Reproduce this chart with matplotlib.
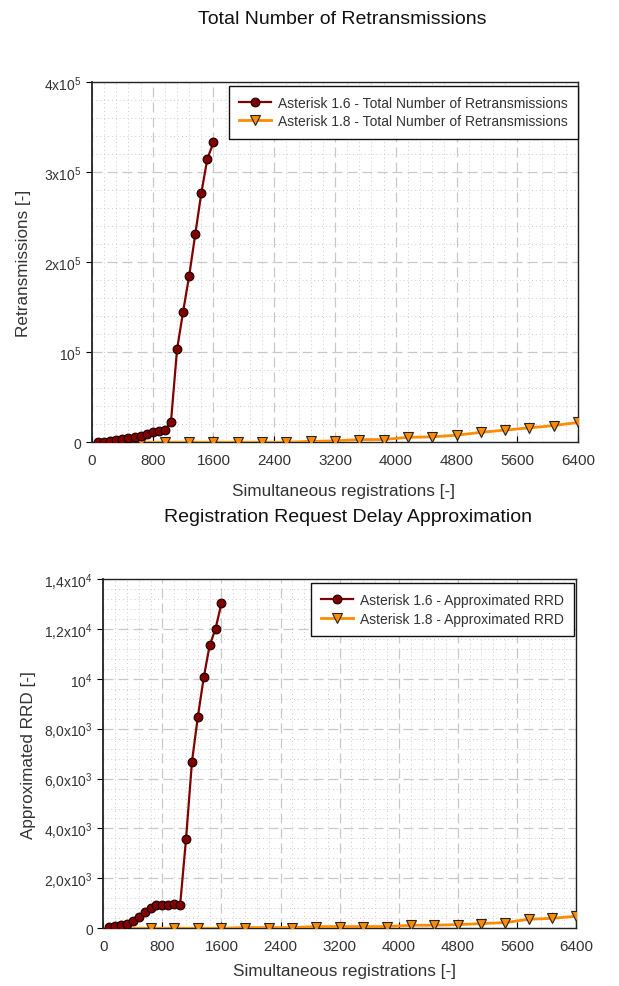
import matplotlib
matplotlib.use("Agg")
import matplotlib.pyplot as plt
from matplotlib.ticker import MultipleLocator, FixedLocator, FixedFormatter

plt.rcParams['font.family'] = ['Liberation Sans', 'DejaVu Sans']
plt.rcParams['mathtext.fontset'] = 'custom'
plt.rcParams['mathtext.rm'] = 'Liberation Sans'
plt.rcParams['mathtext.it'] = 'Liberation Sans:italic'
plt.rcParams['mathtext.bf'] = 'Liberation Sans:bold'

# --- dane ---
x16 = [80, 160, 240, 320, 400, 480, 560, 640, 720, 800,
       880, 960, 1040, 1120, 1200, 1280, 1360, 1440, 1520, 1600]
x18 = [320, 640, 960, 1280, 1600, 1920, 2240, 2560, 2880, 3200,
       3520, 3840, 4160, 4480, 4800, 5120, 5440, 5760, 6080, 6400]

retr16 = [600, 800, 1500, 2500, 3700, 4800, 5900, 7000, 9500, 11500,
          13000, 14000, 22500, 103000, 145000, 185000, 231000, 277000, 315000, 333000]
retr18 = [0, 0, 0, 0, 0, 0, 0, 0, 1000, 1500,
          3000, 3000, 5500, 6000, 7800, 11000, 13500, 16000, 18500, 22000]

rrd16 = [53, 80, 120, 187, 294, 468, 668, 800, 935, 935,
         935, 962, 935, 3580, 6670, 8480, 10060, 11340, 12010, 13040]
rrd18 = [0, 0, 0, 0, 0, 27, 27, 27, 67, 67,
         67, 67, 120, 120, 147, 187, 227, 360, 400, 480]

x_ticks = [0, 800, 1600, 2400, 3200, 4000, 4800, 5600, 6400]
retr_ticks = [0, 100000, 200000, 300000, 400000]
retr_labels = ['0', r'$\mathregular{10^5}$', r'$\mathregular{2x10^5}$',
               r'$\mathregular{3x10^5}$', r'$\mathregular{4x10^5}$']
rrd_ticks = [0, 2000, 4000, 6000, 8000, 10000, 12000, 14000]
rrd_labels = ['0', r'$\mathregular{2{,}0x10^3}$', r'$\mathregular{4{,}0x10^3}$',
              r'$\mathregular{6{,}0x10^3}$', r'$\mathregular{8{,}0x10^3}$',
              r'$\mathregular{10^4}$', r'$\mathregular{1{,}2x10^4}$',
              r'$\mathregular{1{,}4x10^4}$']

RED = '#800000'
ORANGE = '#ff8c00'
TXT = '#333333'


def style_axes(ax, yticks, ylabels, ymax, yminor):
    ax.set_xlim(0, 6400)
    ax.set_ylim(0, ymax)
    ax.xaxis.set_major_locator(FixedLocator(x_ticks))
    ax.xaxis.set_minor_locator(MultipleLocator(160))
    ax.yaxis.set_major_locator(FixedLocator(yticks))
    ax.yaxis.set_major_formatter(FixedFormatter(ylabels))
    ax.yaxis.set_minor_locator(MultipleLocator(yminor))
    ax.grid(which='major', color='#c8c8c8', linestyle=(0, (8, 4)), linewidth=0.9)
    ax.grid(which='minor', color='#cccccc', linestyle=(0, (1, 3)), linewidth=0.7)
    ax.set_axisbelow(True)
    ax.tick_params(axis='x', which='major', direction='in', length=4, width=0.8,
                   labelsize=11, labelcolor=TXT, pad=8)
    ax.tick_params(axis='y', which='major', direction='out', length=4, width=0.8,
                   labelsize=10, labelcolor=TXT)
    ax.tick_params(which='minor', length=0)
    for s in ax.spines.values():
        s.set_color('#222222')
        s.set_linewidth(1.0)
    ax.spines['left'].set_linewidth(1.3)


def add_legend(ax, anchor):
    leg = ax.legend(loc='upper right', bbox_to_anchor=anchor, borderaxespad=0,
                    fontsize=10, fancybox=False, framealpha=1, edgecolor='#111111',
                    handlelength=2.3, handletextpad=0.5, borderpad=0.75,
                    labelspacing=0.3)
    leg.get_frame().set_linewidth(1.0)
    for t in leg.get_texts():
        t.set_color(TXT)


fig = plt.figure(figsize=(6.19, 9.87), dpi=100)

# wykres górny
ax1 = fig.add_axes([0.1486, 0.5509, 0.7852, 0.3650])
ax1.plot(x16, retr16, color=RED, lw=1.6, marker='o', ms=6.3, mfc=RED, mec='#1a0000',
         mew=0.8, label='Asterisk 1.6 - Total Number of Retransmissions', zorder=4)
ax1.plot(x18, retr18, color=ORANGE, lw=2.0, marker='v', ms=7.5, mfc=ORANGE, mec='#222222',
         mew=0.8, label='Asterisk 1.8 - Total Number of Retransmissions', zorder=3)
style_axes(ax1, retr_ticks, retr_labels, 400000, 20000)
ax1.set_xlabel('Simultaneous registrations [-]', fontsize=12.3, color=TXT)
ax1.xaxis.set_label_coords(0.5165, -0.135)
ax1.xaxis.label.set_va('center')
ax1.set_ylabel('Retransmissions [-]', fontsize=12.3, color=TXT)
ax1.yaxis.set_label_coords(-0.14, 0.5)
ax1.yaxis.label.set_va('center')
add_legend(ax1, (1.0, 0.99))
fig.text(342 / 619, 1 - 20 / 987, 'Total Number of Retransmissions', ha='center',
         va='center', fontsize=14, color='#111111')

# wykres dolny
ax2 = fig.add_axes([0.1669, 0.0585, 0.7637, 0.3539])
ax2.plot(x16, rrd16, color=RED, lw=1.6, marker='o', ms=6.3, mfc=RED, mec='#1a0000',
         mew=0.8, label='Asterisk 1.6 - Approximated RRD', zorder=4)
ax2.plot(x18, rrd18, color=ORANGE, lw=2.0, marker='v', ms=7.5, mfc=ORANGE, mec='#222222',
         mew=0.8, label='Asterisk 1.8 - Approximated RRD', zorder=3)
style_axes(ax2, rrd_ticks, rrd_labels, 14000, 400)
ax2.set_xlabel('Simultaneous registrations [-]', fontsize=12.3, color=TXT)
ax2.xaxis.set_label_coords(0.511, -0.122)
ax2.xaxis.label.set_va('center')
ax2.set_ylabel('Approximated RRD [-]', fontsize=12.3, color=TXT)
ax2.yaxis.set_label_coords(-0.159, 0.5)
ax2.yaxis.label.set_va('center')
add_legend(ax2, (0.9964, 0.9886))
fig.text(348 / 619, 1 - 517 / 987, 'Registration Request Delay Approximation', ha='center',
         va='center', fontsize=14, color='#111111')

fig.savefig('out.png', dpi=100)
